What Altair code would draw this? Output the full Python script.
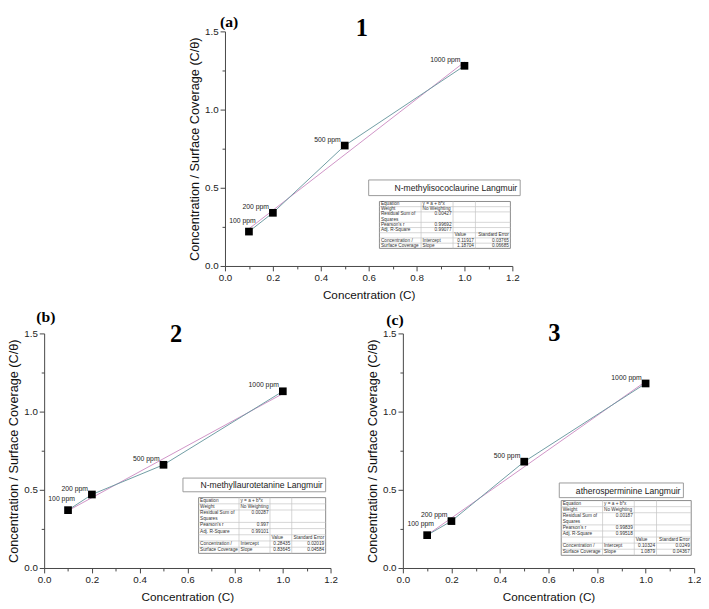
import altair as alt
import pandas as pd

# ---------------- data ----------------
conc = [0.1, 0.2, 0.5, 1.0]
ppm_labels = ["100 ppm", "200 ppm", "500 ppm", "1000 ppm"]
ratio_1 = [0.22, 0.34, 0.77, 1.28]
ratio_2 = [0.37, 0.47, 0.66, 1.13]
ratio_3 = [0.21, 0.30, 0.68, 1.18]

panel_letters = ["(a)", "(b)", "(c)"]
panel_numbers = ["1", "2", "3"]
fit_titles = ["N-methylisococlaurine Langmuir",
              "N-methyllaurotetanine Langmuir",
              "atherosperminine Langmuir"]

x_ticks = [0.0, 0.1, 0.2, 0.3, 0.4, 0.5, 0.6, 0.7, 0.8, 0.9, 1.0, 1.1, 1.2]
y_ticks = [0.0, 0.25, 0.5, 0.75, 1.0, 1.25, 1.5]
x_title = "Concentration (C)"
y_title = "Concentration / Surface Coverage (C/θ)"

stat_labels = ["Equation", "Weight", "Residual Sum of", "Squares", "Pearson's r",
               "Adj. R-Square", "", "Concentration /", "Surface Coverage"]
equation_text = "y = a + b*x"
weight_text = "No Weighting"
param_names = ["Intercept", "Slope"]
col_heads = ["Value", "Standard Error"]
rss = ["0.00427", "0.00287", "0.00187"]
pearson = ["0.99692", "0.997", "0.99839"]
adj_r2 = ["0.99077", "0.99101", "0.99518"]
intercept = ["0.11917", "0.28435", "0.10324"]
intercept_se = ["0.03765", "0.02019", "0.0249"]
slope = ["1.18704", "0.83645", "1.0879"]
slope_se = ["0.06685", "0.04584", "0.04367"]

# ---------------- style ----------------
FONT = "Liberation Sans"
SERIF = "Liberation Serif"
CONN_COLOR = "#6f9ca3"
FIT_COLOR = "#cf92c6"

x_axis = alt.Axis(
    values=x_ticks, title=x_title, grid=False, labelFlush=False, labelOverlap=False,
    labelExpr="round(datum.value*10)%2==0 ? format(datum.value,'.1f') : ''",
    tickSize={"condition": {"test": "round(datum.value*10)%2==0", "value": 5}, "value": 3},
    labelPadding=2, titlePadding=7, titleFontSize=12,
)
y_axis = alt.Axis(
    values=y_ticks, title=y_title, grid=False, labelFlush=False, labelOverlap=False,
    labelExpr="round(datum.value*4)%2==0 ? format(datum.value,'.1f') : ''",
    tickSize={"condition": {"test": "round(datum.value*4)%2==0", "value": 5}, "value": 3},
    labelPadding=2, titlePadding=3, titleFontSize=13,
)


def table_frames(k, tl, tr, tt, tb):
    n = 9
    uh = (tb - tt) / n
    tops = [tt + i * uh for i in range(n)]
    bots = [t + uh for t in tops]
    colfr = [0, 0.318, 0.562, 0.733, 1.0]
    cx = [tl + f * (tr - tl) for f in colfr]
    grid = [
        [stat_labels[0], equation_text, "", ""],
        [stat_labels[1], weight_text, "", ""],
        [stat_labels[2], rss[k], "", ""],
        [stat_labels[3], "", "", ""],
        [stat_labels[4], pearson[k], "", ""],
        [stat_labels[5], adj_r2[k], "", ""],
        [stat_labels[6], "", col_heads[0], col_heads[1]],
        [stat_labels[7], param_names[0], intercept[k], intercept_se[k]],
        [stat_labels[8], param_names[1], slope[k], slope_se[k]],
    ]
    cells = []
    for r, row in enumerate(grid):
        ym = (tops[r] + bots[r]) / 2
        for c, txt in enumerate(row):
            if txt == "":
                continue
            if c == 0 or (c == 1 and r in (0, 1, 7, 8)) or (c == 2 and r == 6):
                cells.append({"px": cx[c] + 1.5, "py": ym, "t": txt, "al": "left"})
            else:
                cells.append({"px": cx[c + 1] - 1.5, "py": ym, "t": txt, "al": "right"})
    hl = [{"xa": tl, "xb": tr, "y": b} for i, b in enumerate(bots[:-1]) if i != 2]
    vl = [{"x": x, "ya": tt, "yb": tb} for x in cx[1:4]]
    return pd.DataFrame(cells), pd.DataFrame(hl), pd.DataFrame(vl)


def panel(k, ratios, W, H, g):
    df = pd.DataFrame({"conc": conc, "ratio": ratios, "label": ppm_labels})
    base = alt.Chart(df)
    xenc = alt.X("conc:Q", scale=alt.Scale(domain=[0, 1.2], nice=False, zero=False), axis=x_axis)
    yenc = alt.Y("ratio:Q", scale=alt.Scale(domain=[0, 1.5], nice=False), axis=y_axis)

    fit = base.transform_regression("conc", "ratio").mark_line(
        color=FIT_COLOR, strokeWidth=1).encode(x=xenc, y=yenc)
    conn = base.mark_line(color=CONN_COLOR, strokeWidth=1).encode(x=xenc, y=yenc)
    pts = base.mark_square(size=62, color="black", opacity=1).encode(x=xenc, y=yenc)
    lab1 = base.transform_filter("datum.conc < 0.15").mark_text(
        align="right", baseline="bottom", dx=7, dy=-8, fontSize=7, font=FONT, color="#222"
    ).encode(x=xenc, y=yenc, text="label:N")
    lab2 = base.transform_filter("datum.conc >= 0.15").mark_text(
        align="right", baseline="bottom", dx=-4, dy=-3, fontSize=7, font=FONT, color="#222"
    ).encode(x=xenc, y=yenc, text="label:N")

    bl, br, bt, bb = g["box"]
    box_df = pd.DataFrame({"x1": [bl], "x2": [br], "y1": [bt], "y2": [bb],
                           "tx": [br - 3], "ty": [(bt + bb) / 2 + 0.5], "t": [fit_titles[k]]})
    box = alt.Chart(box_df).mark_rect(fill="white", stroke="#9a9a9a", strokeWidth=1).encode(
        x=alt.X("x1:Q", scale=None, axis=None), x2="x2:Q",
        y=alt.Y("y1:Q", scale=None, axis=None), y2="y2:Q")
    box_txt = alt.Chart(box_df).mark_text(
        align="right", baseline="middle", fontSize=8.8, font=FONT, color="#222").encode(
        x=alt.X("tx:Q", scale=None, axis=None), y=alt.Y("ty:Q", scale=None, axis=None), text="t:N")

    tl, tr, tt, tb = g["table"]
    cells, hl, vl = table_frames(k, tl, tr, tt, tb)
    tb_df = pd.DataFrame({"x1": [tl], "x2": [tr], "y1": [tt], "y2": [tb]})
    tbox = alt.Chart(tb_df).mark_rect(fill="white", stroke="#8a8a8a", strokeWidth=1).encode(
        x=alt.X("x1:Q", scale=None, axis=None), x2="x2:Q",
        y=alt.Y("y1:Q", scale=None, axis=None), y2="y2:Q")
    hlines = alt.Chart(hl).mark_rule(color="#c4c4c4", strokeWidth=0.7).encode(
        x=alt.X("xa:Q", scale=None, axis=None), x2="xb:Q",
        y=alt.Y("y:Q", scale=None, axis=None))
    vlines = alt.Chart(vl).mark_rule(color="#c4c4c4", strokeWidth=0.7).encode(
        x=alt.X("x:Q", scale=None, axis=None),
        y=alt.Y("ya:Q", scale=None, axis=None), y2="yb:Q")
    txt_l = alt.Chart(cells[cells["al"] == "left"]).mark_text(
        align="left", baseline="middle", fontSize=4.8, font=FONT, color="#333").encode(
        x=alt.X("px:Q", scale=None, axis=None), y=alt.Y("py:Q", scale=None, axis=None), text="t:N")
    txt_r = alt.Chart(cells[cells["al"] == "right"]).mark_text(
        align="right", baseline="middle", fontSize=4.8, font=FONT, color="#333").encode(
        x=alt.X("px:Q", scale=None, axis=None), y=alt.Y("py:Q", scale=None, axis=None), text="t:N")

    one = pd.DataFrame({"t": [panel_letters[k]], "n": [panel_numbers[k]]})
    letter = alt.Chart(one).mark_text(
        align="left", baseline="top", fontSize=16, font=SERIF, fontWeight="bold", color="black"
    ).encode(x=alt.value(g["letter"][0]), y=alt.value(g["letter"][1]), text="t:N")
    number = alt.Chart(one).mark_text(
        align="center", baseline="top", fontSize=25, font=SERIF, fontWeight="bold", color="black"
    ).encode(x=alt.value(g["number"][0]), y=alt.value(g["number"][1]), text="n:N")

    return alt.layer(fit, conn, pts, lab1, lab2, box, box_txt, tbox, hlines, vlines,
                     txt_l, txt_r, letter, number).properties(width=W, height=H)


geom_a = {"box": (147, 302, 152, 168), "table": (158, 292, 174, 222),
          "letter": (-5, -17), "number": (140, -15)}
geom_b = {"box": (142, 288, 148, 162), "table": (158, 288, 168, 225),
          "letter": (-8, -25), "number": (135, -11)}
geom_c = {"box": (160, 287, 153, 168), "table": (162, 295, 171, 227),
          "letter": (-17, -22), "number": (155, -12)}

pa = panel(0, ratio_1, 294, 240, geom_a)
pb = panel(1, ratio_2, 293, 240, geom_b)
pc = panel(2, ratio_3, 298, 240, geom_c)

spacer = alt.Chart(pd.DataFrame({"t": [""]})).mark_text().encode(
    text="t:N", x=alt.value(0), y=alt.value(0)).properties(width=148, height=10)

top = alt.hconcat(spacer, pa, spacing=0)
bottom = alt.hconcat(pb, pc, spacing=30)

chart = alt.vconcat(top, bottom, spacing=9).properties(padding=0).configure_view(
    strokeWidth=0
).configure_axis(
    domainColor="#444", tickColor="#444", labelColor="#222", titleColor="#111",
    labelFont=FONT, titleFont=FONT, labelFontSize=10,
    titleFontWeight="normal", domainWidth=1, tickWidth=1,
)

chart.save("out.html", embed_options={"renderer": "svg", "actions": False})
